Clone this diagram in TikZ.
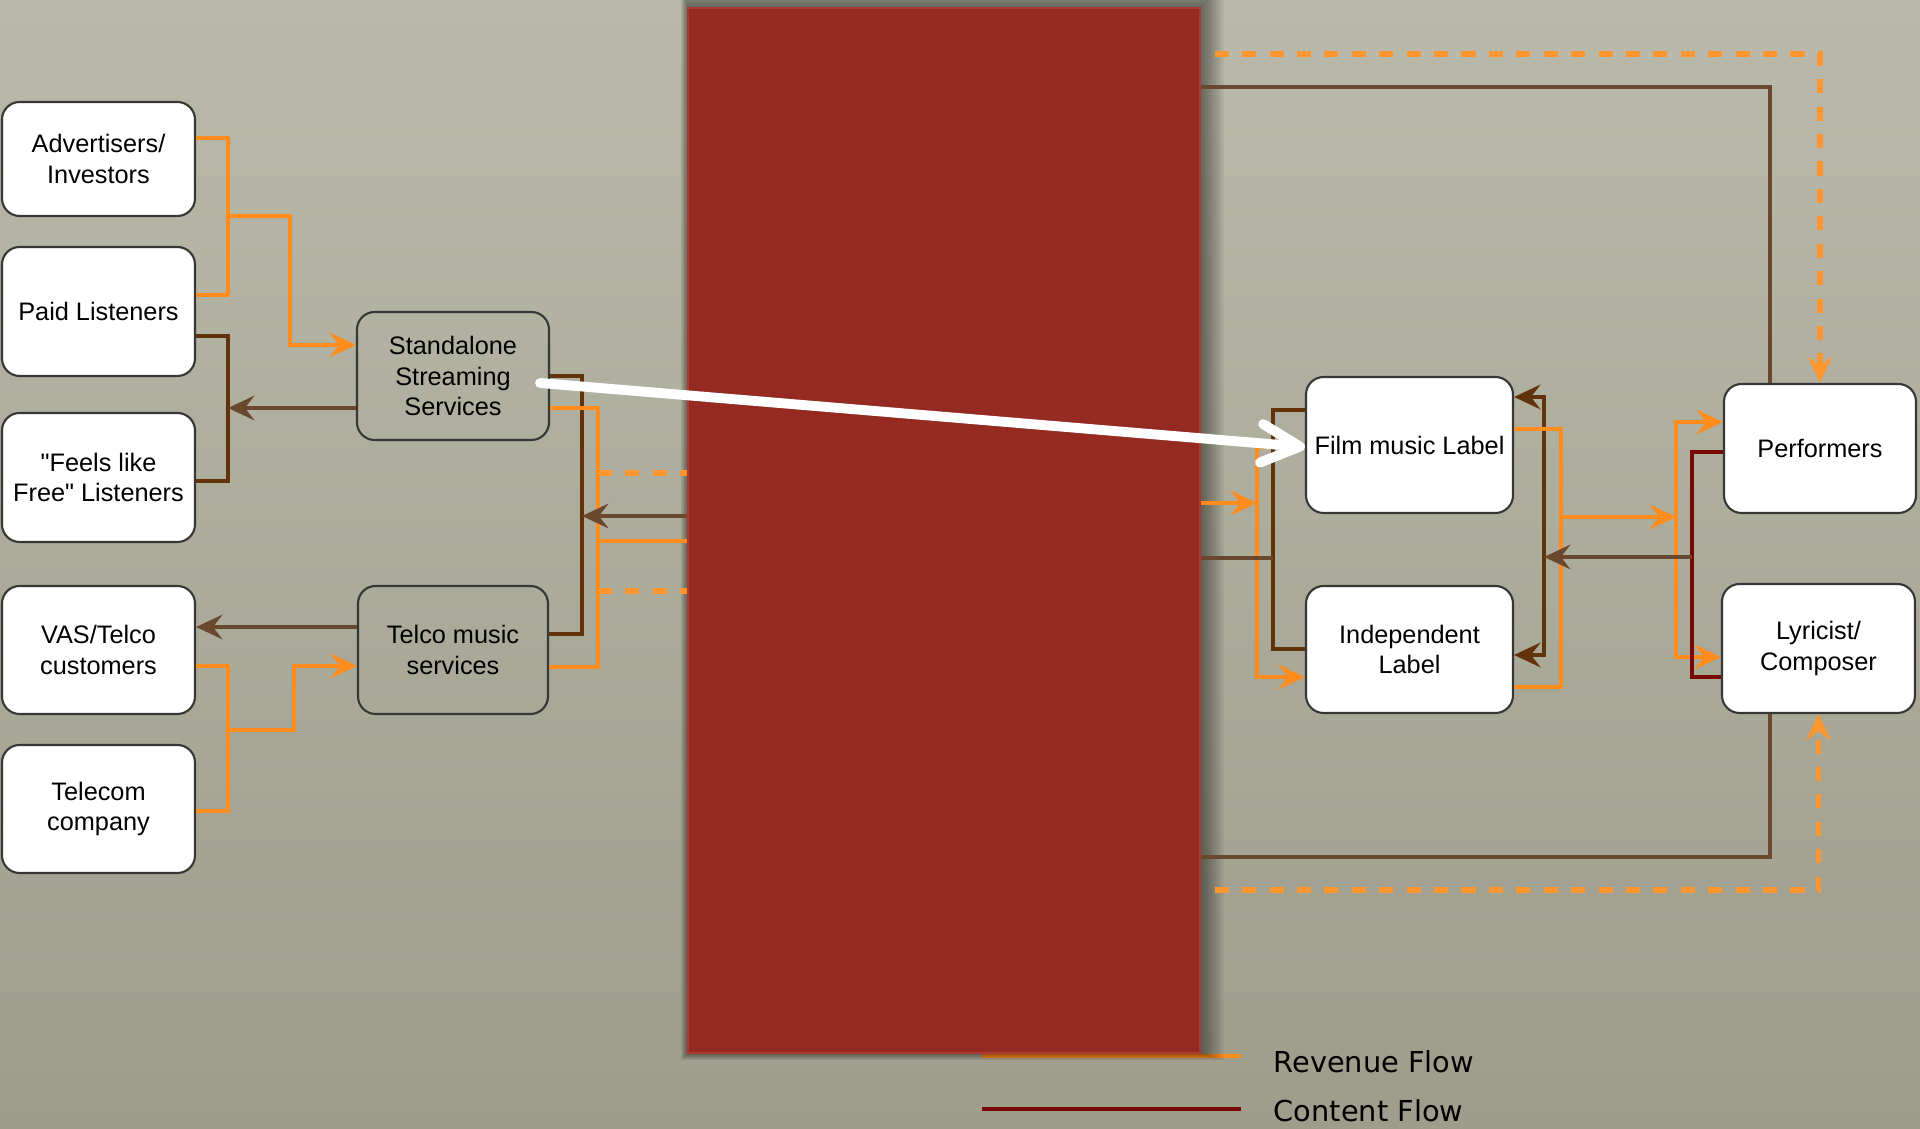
\documentclass[tikz,border=0pt]{standalone}
\usepackage{fontspec}
\setmainfont{Liberation Sans}
\newfontfamily\legendfont{DejaVu Sans}
\usetikzlibrary{arrows.meta, calc}

\definecolor{bgtop}{RGB}{186,186,170}
\definecolor{bgbot}{RGB}{158,157,140}
\definecolor{revorange}{RGB}{255,140,28}
\definecolor{revdash}{RGB}{255,150,48}
\definecolor{brdark}{RGB}{98,50,10}
\definecolor{brlight}{RGB}{106,72,46}
\definecolor{contentred}{RGB}{120,8,4}
\definecolor{wallred}{RGB}{148,42,33}
\definecolor{walledge}{RGB}{172,58,48}
\definecolor{boxline}{RGB}{55,55,55}

\begin{document}
\begin{tikzpicture}[x=0.1mm, y=-0.1mm,
    >={Stealth[length=7.5pt, width=7pt, inset=2.7pt]},
    flowbox/.style={draw=boxline, line width=0.6pt, rounded corners=5pt, fill=white,
        align=center, inner sep=0pt, font=\fontsize{7.2}{8.8}\selectfont},
    svcbox/.style={flowbox, fill=none},
    revline/.style={draw=revorange, line width=1.3pt},
    revdashed/.style={draw=revdash, line width=1.5pt, dash pattern=on 4pt off 3.8pt},
    contline/.style={draw=brdark, line width=1.3pt},
    contlight/.style={draw=brlight, line width=1.3pt},
    contredline/.style={draw=contentred, line width=1.3pt},
    legend/.style={font=\legendfont\fontsize{8.2}{10}\selectfont, anchor=base west, inner sep=0pt}]

    \shade[top color=bgtop, bottom color=bgbot] (0,0) rectangle (1920,1129);
    \useasboundingbox (0,0) rectangle (1920,1129);

    % Legenda
    \node[legend] (revleg) at (1273,1073) {Revenue Flow};
    \node[legend] (contleg) at (1273,1122) {Content Flow};
    \draw[revline, line width=1.4pt] (revleg.base west) ++(-32,-17) -- ++(-259,0);
    \draw[contredline, line width=1.4pt] (contleg.base west) ++(-32,-13) -- ++(-259,0);

    % Pannello rosso
    \foreach \e in {2,4,...,24}
        \fill[black, opacity=0.045] (688-0.3*\e, 8-\e) rectangle (1200+\e, 1053+0.3*\e);
    \node[draw=walledge, line width=0.8pt, fill=wallred, inner sep=0pt,
        minimum width=51.2mm, minimum height=104.5mm] (wall) at (944,530.5) {};

    % Ascoltatori e investitori
    \node[flowbox, minimum width=19.3mm, minimum height=11.4mm] (adv) at (98.5,159) {Advertisers/\\Investors};
    \node[flowbox, minimum width=19.3mm, minimum height=12.9mm] (paid) at (98.5,311.5) {Paid Listeners};
    \node[flowbox, minimum width=19.3mm, minimum height=12.9mm] (free) at (98.5,477.5) {\textquotedbl Feels like\\Free\textquotedbl{} Listeners};
    \node[flowbox, minimum width=19.3mm, minimum height=12.8mm] (vas) at (98.5,650) {VAS/Telco\\customers};
    \node[flowbox, minimum width=19.3mm, minimum height=12.8mm] (tel) at (98.5,809) {Telecom\\company};

    % Servizi
    \node[svcbox, minimum width=19.2mm, minimum height=12.8mm] (stand) at (453,376) {Standalone\\Streaming\\Services};
    \node[svcbox, minimum width=19.0mm, minimum height=12.8mm] (telco) at (453,650) {Telco music\\services};

    % Etichette e artisti
    \node[flowbox, minimum width=20.7mm, minimum height=13.6mm] (film) at (1409.5,445) {Film music Label};
    \node[flowbox, minimum width=20.7mm, minimum height=12.7mm] (indep) at (1409.5,649.5) {Independent\\Label};
    \node[flowbox, minimum width=19.2mm, minimum height=12.9mm] (perf) at (1820,448.5) {Performers};
    \node[flowbox, minimum width=19.3mm, minimum height=12.9mm] (lyric) at (1818.5,648.5) {Lyricist/\\Composer};

    % Flussi a sinistra
    \coordinate (jadv) at (228,216);
    \draw[revline] (adv.east |- 0,138) -| (jadv) |- (paid.east |- 0,295);
    \draw[revline, ->] (jadv) -- (290,216) |- (stand.west |- 0,345);
    \coordinate (jfree) at (228,408);
    \draw[contline] (paid.east |- 0,336) -| (228,481) -- (free.east |- 0,481);
    \draw[contlight, ->] (stand.west |- jfree) -- (jfree);

    \draw[contlight, ->] (telco.west |- 0,627) -- (vas.east |- 0,627);
    \coordinate (jvas) at (228,730);
    \draw[revline] (vas.east |- 0,666) -| (jvas) |- (tel.east |- 0,811);
    \draw[revline, ->] (jvas) -- (294,730) |- (telco.west |- 0,666);

    % Flussi verso il pannello
    \coordinate (jmid) at (582,516);
    \draw[contline] (stand.east |- 0,376) -| (jmid) |- (telco.east |- 0,634);
    \draw[revline] (stand.east |- 0,408) -| (598,667) -- (telco.east |- 0,667);
    \draw[revdashed] (598,473) -- (wall.west |- 0,473);
    \draw[contlight, ->] (wall.west |- jmid) -- (jmid);
    \draw[revline] (598,541) -- (wall.west |- 0,541);
    \draw[revdashed] (598,591) -- (wall.west |- 0,591);

    % Flussi a destra
    \coordinate (jlab) at (1257,503);
    \draw[revline, ->] (wall.east |- jlab) -- (jlab);
    \draw[revline, <->] (film.west |- 0,447) -| (1257,677) -- (indep.west |- 0,677);
    \coordinate (jlabc) at (1273,558);
    \draw[contline] (film.west |- 0,410) -| (jlabc) |- (indep.west |- 0,649);
    \draw[contlight] (wall.east |- jlabc) -- (jlabc);

    \coordinate (jout) at (1561,517);
    \coordinate (jart) at (1676,517);
    \coordinate (jback) at (1544,557);
    \coordinate (jcred) at (1692,557);
    \draw[contline, <->] (film.east |- 0,397) -| (jback) |- (indep.east |- 0,655);
    \draw[revline] (film.east |- 0,429) -| (jout) |- (indep.east |- 0,687);
    \draw[revline, ->] (jout) -- (jart);
    \draw[revline, <->] (perf.west |- 0,422) -| (jart) |- (lyric.west |- 0,657);
    \draw[contredline] (perf.west |- 0,452) -| (jcred) |- (lyric.west |- 0,677);
    \draw[contlight, ->] (jcred) -- (jback);

    % Anelli sopra e sotto
    \draw[contlight] (wall.east |- 0,87) -| (perf.north -| 1770,0);
    \draw[revdashed, ->, dash phase=4pt] (wall.east |- 0,54) -| (perf.north);
    \draw[contlight] (lyric.south -| 1770,0) |- (wall.east |- 0,857);
    \draw[revdashed, ->, dash phase=4pt] (wall.east |- 0,890) -| (lyric.south);

    % Freccia bianca
    \coordinate (wstart) at (540,383);
    \draw[white, line width=2.8pt, line cap=round,
        -{Straight Barb[length=11pt, width=11pt, round]}] (wstart) -- (film.west |- 0,447);
\end{tikzpicture}
\end{document}
